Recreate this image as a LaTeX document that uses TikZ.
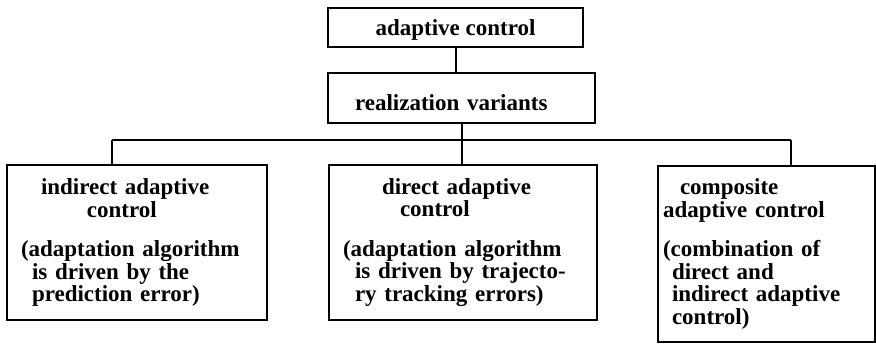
\documentclass[tikz,border=0pt]{standalone}
\usepackage{fontspec}
\setmainfont{Liberation Serif}
\usepackage{tikz}

\begin{document}
\begin{tikzpicture}[x=1pt,y=-1pt,
  box/.style={draw,rectangle,line width=1.8pt,inner sep=0pt,font=\fontsize{23}{22.5}\selectfont\bfseries},
  varbox/.style={box,align=left,inner xsep=14pt},
  link/.style={line width=2pt}]
\useasboundingbox (0,0) rectangle (876,347);
\node[box,minimum width=255pt,minimum height=39pt,text height=17pt,text depth=0pt] (ac) at (455.5,27.5) {adaptive control};
\node[box,align=left,inner xsep=27pt,text width=213pt,minimum height=50pt,text height=26pt,text depth=0pt] (rv) at (461.5,98) {realization variants};
\node[varbox,text width=232pt,minimum height=155pt] (ind) at (137,242.5) {%
\hspace*{20pt}indirect adaptive\\
\hspace*{66pt}control\\[17pt]
(adaptation algorithm\\
\hspace*{11pt}is driven by the\\
\hspace*{11pt}prediction error)};
\node[varbox,text width=240pt,minimum height=155pt] (dir) at (463,242.5) {%
\hspace*{39pt}direct adaptive\\
\hspace*{57pt}control\\[17pt]
(adaptation algorithm\\
\hspace*{12pt}is driven by trajecto-\\
\hspace*{12pt}ry tracking errors)};
\node[varbox,inner xsep=5pt,text width=207pt,minimum height=176pt] (comp) at (766.5,254) {%
\hspace*{17pt}composite\\
adaptive control\\[17pt]
(combination of\\
\hspace*{9pt}direct and\\
\hspace*{9pt}indirect adaptive\\
\hspace*{9pt}control)};
\coordinate (busl) at (112,140);
\coordinate (busr) at (791,140);
\draw[link] (ac.south) -- (ac.south |- rv.north);
\draw[link] (rv.south) -- (rv.south |- dir.north);
\draw[link] (busl) -- (busr);
\draw[link] (busl) -- (busl |- ind.north);
\draw[link] (busr) -- (busr |- comp.north);
\end{tikzpicture}
\end{document}
